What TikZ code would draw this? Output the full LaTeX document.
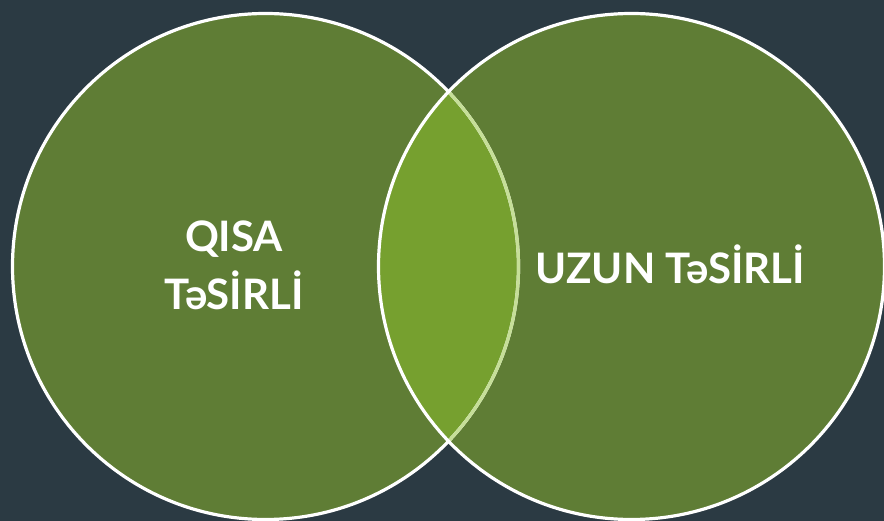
\documentclass[tikz,border=0pt]{standalone}
\usepackage{fontspec}
\setmainfont{Lato}
\definecolor{bgdark}{HTML}{2B3A43}
\definecolor{leafgreen}{HTML}{5F7D35}
\definecolor{lensgreen}{HTML}{76A02F}
\definecolor{paleedge}{HTML}{C6DF98}
\begin{document}
\begin{tikzpicture}[x=1pt,y=-1pt,
  ring/.style={line width=3.2pt},
  label/.style={text=white,font=\bfseries\fontsize{42}{58}\selectfont,align=center,inner sep=0pt}]
  % canvas
  \fill[bgdark] (0,0) rectangle (884,521);
  \useasboundingbox (0,0) rectangle (884,521);
  \coordinate (cl) at (265.5,266.5);
  \coordinate (cr) at (631.5,266.5);
  \def\rad{253}
  % circle bodies
  \fill[leafgreen] (cl) circle[radius=\rad];
  \fill[leafgreen] (cr) circle[radius=\rad];
  % overlap lens
  \begin{scope}
    \clip (cl) circle[radius=\rad];
    \fill[lensgreen] (cr) circle[radius=\rad];
  \end{scope}
  % outlines
  \draw[ring,white] (cl) circle[radius=\rad];
  \begin{scope}
    \clip (cr) circle[radius=\rad];
    \draw[ring,paleedge] (cl) circle[radius=\rad];
  \end{scope}
  \draw[ring,white] (cr) circle[radius=\rad];
  % labels
  \node[label] (short) at (234,265) {QISA\\TəSİRLİ};
  \node[label] (long) at (670,264) {UZUN TəSİRLİ};
\end{tikzpicture}
\end{document}
